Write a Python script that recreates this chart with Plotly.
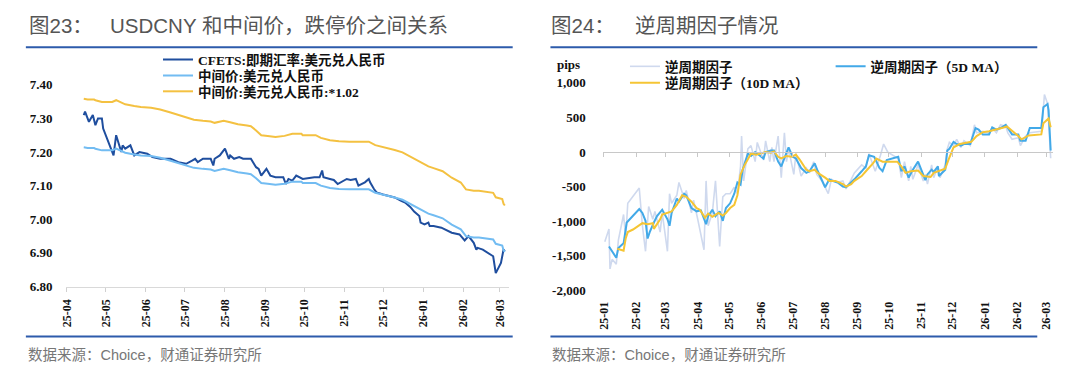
import plotly.graph_objects as go

# ---------------- Left chart data (USDCNY vs central parity) ----------------
spot_dates = ["2025-04-14","2025-04-15","2025-04-18","2025-04-21","2025-04-23","2025-04-25","2025-04-28","2025-04-29",
              "2025-05-07","2025-05-09","2025-05-13","2025-05-14","2025-05-16","2025-05-20","2025-05-23","2025-05-27",
              "2025-06-02","2025-06-06","2025-06-12","2025-06-20","2025-06-26","2025-07-02","2025-07-07","2025-07-09",
              "2025-07-11","2025-07-15","2025-07-21","2025-07-23","2025-07-24","2025-07-28","2025-08-01","2025-08-04",
              "2025-08-05","2025-08-08","2025-08-12","2025-08-15","2025-08-19","2025-08-21","2025-08-25","2025-08-27",
              "2025-08-29","2025-09-02","2025-09-05","2025-09-09","2025-09-15","2025-09-17","2025-09-19","2025-09-22",
              "2025-09-25","2025-09-29","2025-09-30","2025-10-09","2025-10-13","2025-10-15","2025-10-16","2025-10-21",
              "2025-10-24","2025-10-27","2025-10-29","2025-11-03","2025-11-06","2025-11-10","2025-11-12","2025-11-17",
              "2025-11-20","2025-11-21","2025-11-24","2025-11-26","2025-12-01","2025-12-05","2025-12-10","2025-12-15",
              "2025-12-18","2025-12-22","2025-12-25","2025-12-29","2025-12-30","2026-01-02","2026-01-05","2026-01-06",
              "2026-01-09","2026-01-15","2026-01-20","2026-01-23","2026-01-29","2026-02-02","2026-02-05","2026-02-09",
              "2026-02-11","2026-02-12","2026-02-16","2026-02-20","2026-02-24","2026-02-26","2026-03-02","2026-03-04",
              "2026-03-05"]
spot_vals = [7.310,7.320,7.290,7.310,7.280,7.300,7.300,7.270,
             7.190,7.250,7.200,7.220,7.210,7.220,7.190,7.200,
             7.195,7.185,7.180,7.180,7.170,7.165,7.175,7.180,
             7.170,7.180,7.180,7.160,7.180,7.190,7.210,7.180,
             7.190,7.180,7.185,7.180,7.180,7.180,7.155,7.150,
             7.130,7.150,7.130,7.125,7.125,7.105,7.120,7.115,
             7.130,7.120,7.120,7.125,7.125,7.145,7.125,7.120,
             7.117,7.105,7.110,7.120,7.117,7.120,7.100,7.110,
             7.120,7.110,7.090,7.080,7.074,7.070,7.065,7.055,
             7.050,7.037,7.023,7.010,6.990,6.985,6.990,6.980,
             6.980,6.975,6.965,6.960,6.955,6.937,6.950,6.930,
             6.910,6.915,6.910,6.900,6.890,6.840,6.870,6.910,
             6.905]

mid_dates = ["2025-04-14","2025-04-17","2025-04-22","2025-04-23","2025-04-28","2025-05-06","2025-05-09","2025-05-13",
             "2025-05-16","2025-05-23","2025-05-28","2025-06-05","2025-06-12","2025-06-20","2025-06-26","2025-07-03",
             "2025-07-08","2025-07-15","2025-07-21","2025-07-24","2025-07-31","2025-08-05","2025-08-11","2025-08-18",
             "2025-08-21","2025-08-25","2025-08-29","2025-09-03","2025-09-09","2025-09-16","2025-09-22","2025-09-29",
             "2025-09-30","2025-10-10","2025-10-14","2025-10-21","2025-10-28","2025-11-05","2025-11-12","2025-11-20",
             "2025-11-25","2025-12-01","2025-12-05","2025-12-10","2025-12-16","2025-12-22","2025-12-26","2025-12-31",
             "2026-01-05","2026-01-09","2026-01-16","2026-01-23","2026-01-30","2026-02-03","2026-02-09","2026-02-13",
             "2026-02-24","2026-02-26","2026-03-03","2026-03-04","2026-03-05"]
mid_vals = [7.214,7.212,7.212,7.210,7.205,7.205,7.210,7.203,
            7.198,7.193,7.190,7.188,7.183,7.174,7.167,7.160,
            7.153,7.150,7.148,7.144,7.150,7.146,7.140,7.136,
            7.134,7.122,7.108,7.106,7.103,7.106,7.112,7.112,
            7.108,7.108,7.100,7.093,7.090,7.089,7.089,7.089,
            7.079,7.074,7.070,7.065,7.058,7.046,7.036,7.027,
            7.017,7.012,7.003,6.984,6.970,6.950,6.946,6.946,
            6.940,6.927,6.922,6.908,6.903]
# third series is defined in the chart's legend as central parity * 1.02
limit_factor = 1.02
limit_vals = [round(v * limit_factor, 4) for v in mid_vals]

left_names = ["CFETS:即期汇率:美元兑人民币", "中间价:美元兑人民币", "中间价:美元兑人民币:*1.02"]
left_yticks = [6.80, 6.90, 7.00, 7.10, 7.20, 7.30, 7.40]

# ---------------- Right chart data (counter-cyclical factor, pips) ----------------
raw_dates = ["2025-01-02","2025-01-06","2025-01-07","2025-01-09","2025-01-13","2025-01-15","2025-01-20","2025-01-22",
             "2025-01-24","2025-02-04","2025-02-07","2025-02-10","2025-02-13","2025-02-17","2025-02-19","2025-02-24",
             "2025-02-26","2025-03-03","2025-03-05","2025-03-07","2025-03-12","2025-03-14","2025-03-19","2025-03-21",
             "2025-03-26","2025-03-28","2025-04-01","2025-04-07","2025-04-09","2025-04-11","2025-04-15","2025-04-18",
             "2025-04-22","2025-04-25","2025-04-28","2025-05-02","2025-05-06","2025-05-09","2025-05-12","2025-05-13",
             "2025-05-15","2025-05-19","2025-05-22","2025-05-26","2025-05-28","2025-06-03","2025-06-05","2025-06-09",
             "2025-06-11","2025-06-13","2025-06-17","2025-06-20","2025-06-23","2025-06-25","2025-06-27","2025-07-02",
             "2025-07-04","2025-07-09","2025-07-14","2025-07-17","2025-07-21","2025-07-24","2025-07-29","2025-08-04",
             "2025-08-07","2025-08-12","2025-08-18","2025-08-21","2025-08-26","2025-08-29","2025-09-05","2025-09-09",
             "2025-09-12","2025-09-18","2025-09-23","2025-09-26","2025-09-30","2025-10-10","2025-10-13","2025-10-16",
             "2025-10-20","2025-10-22","2025-10-24","2025-10-29","2025-11-03","2025-11-05","2025-11-07","2025-11-11",
             "2025-11-13","2025-11-17","2025-11-19","2025-11-24","2025-11-26","2025-11-28","2025-12-02","2025-12-05",
             "2025-12-09","2025-12-12","2025-12-18","2025-12-22","2025-12-24","2025-12-30","2026-01-05","2026-01-08",
             "2026-01-12","2026-01-16","2026-01-21","2026-01-23","2026-01-27","2026-02-02","2026-02-04","2026-02-09",
             "2026-02-13","2026-02-24","2026-02-25","2026-02-27","2026-03-02","2026-03-03","2026-03-04","2026-03-05"]
raw_vals = [-1296,-1111,-1690,-1551,-1620,-1273,-903,-1250,
            -741,-519,-1065,-1435,-787,-972,-857,-1157,
            -880,-1435,-602,-741,-625,-440,-671,-556,
            -880,-694,-972,-1412,-417,-1065,-880,-417,
            -1366,-648,-602,-602,-509,-602,-208,231,
            -417,46,93,-139,139,-116,162,-139,
            69,-139,231,-370,278,-139,46,-324,
            -23,-347,-231,-301,-139,-324,-417,-602,
            -394,-440,-417,-532,-394,-301,-185,-231,
            -23,-278,-46,116,0,-93,-370,-139,
            -417,-208,-394,-185,-417,-324,-463,-185,
            -370,-208,-370,-185,46,139,93,185,
            69,162,93,394,278,301,278,347,
            278,394,370,278,185,208,93,231,
            278,301,417,833,700,400,150,-90]

ma5_dates = ["2025-01-06","2025-01-13","2025-01-15","2025-01-20","2025-01-23","2025-01-27","2025-02-04","2025-02-07",
             "2025-02-10","2025-02-12","2025-02-14","2025-02-18","2025-02-21","2025-02-26","2025-03-03","2025-03-05",
             "2025-03-07","2025-03-12","2025-03-14","2025-03-19","2025-03-21","2025-03-26","2025-03-31","2025-04-04",
             "2025-04-09","2025-04-11","2025-04-15","2025-04-18","2025-04-22","2025-04-25","2025-04-28","2025-05-02",
             "2025-05-06","2025-05-09","2025-05-12","2025-05-14","2025-05-19","2025-05-22","2025-05-26","2025-05-30",
             "2025-06-03","2025-06-05","2025-06-10","2025-06-13","2025-06-17","2025-06-20","2025-06-24","2025-06-27",
             "2025-07-01","2025-07-04","2025-07-09","2025-07-14","2025-07-17","2025-07-22","2025-07-25","2025-08-01",
             "2025-08-05","2025-08-08","2025-08-13","2025-08-18","2025-08-21","2025-08-26","2025-08-29","2025-09-05",
             "2025-09-09","2025-09-12","2025-09-17","2025-09-22","2025-09-25","2025-09-29","2025-10-10","2025-10-13",
             "2025-10-16","2025-10-20","2025-10-22","2025-10-24","2025-10-29","2025-11-03","2025-11-05","2025-11-07",
             "2025-11-11","2025-11-13","2025-11-17","2025-11-18","2025-11-24","2025-11-26","2025-11-28","2025-12-02",
             "2025-12-05","2025-12-09","2025-12-12","2025-12-18","2025-12-23","2025-12-26","2025-12-30","2026-01-05",
             "2026-01-08","2026-01-12","2026-01-16","2026-01-21","2026-01-23","2026-01-27","2026-02-02","2026-02-04",
             "2026-02-09","2026-02-13","2026-02-24","2026-02-26","2026-03-02","2026-03-03","2026-03-05"]
ma5_vals = [-1366,-1528,-1389,-1320,-1019,-949,-824,-880,
            -995,-1250,-1157,-1019,-926,-833,-972,-1065,
            -880,-671,-718,-602,-625,-810,-857,-843,
            -1042,-926,-833,-926,-857,-995,-810,-741,
            -602,-440,-472,-255,-23,-56,0,-46,
            -93,0,23,23,-139,-208,-46,69,
            -69,-93,-231,-301,-278,-162,-278,-509,
            -394,-417,-440,-500,-509,-440,-394,-278,
            -208,-46,-69,-231,-278,-116,-69,-278,
            -208,-370,-301,-255,-139,-324,-407,-324,
            -255,-287,-208,-347,-255,23,46,148,
            116,93,116,116,347,324,255,255,
            356,324,347,394,347,255,255,162,
            162,347,347,648,695,602,23]

ma10_dates = ["2025-01-14","2025-01-20","2025-01-22","2025-01-24","2025-01-29","2025-02-04","2025-02-07","2025-02-12",
              "2025-02-17","2025-02-18","2025-02-24","2025-02-26","2025-03-03","2025-03-07","2025-03-12","2025-03-17",
              "2025-03-21","2025-03-26","2025-03-31","2025-04-03","2025-04-08","2025-04-11","2025-04-15","2025-04-21",
              "2025-04-25","2025-04-28","2025-05-02","2025-05-06","2025-05-09","2025-05-12","2025-05-16","2025-05-22",
              "2025-05-27","2025-05-30","2025-06-05","2025-06-10","2025-06-13","2025-06-17","2025-06-20","2025-06-25",
              "2025-06-30","2025-07-04","2025-07-08","2025-07-14","2025-07-17","2025-07-22","2025-07-25","2025-08-01",
              "2025-08-05","2025-08-11","2025-08-18","2025-08-21","2025-08-26","2025-08-29","2025-09-05","2025-09-09",
              "2025-09-16","2025-09-19","2025-09-25","2025-09-30","2025-10-09","2025-10-13","2025-10-17","2025-10-22",
              "2025-10-29","2025-11-03","2025-11-10","2025-11-13","2025-11-18","2025-11-24","2025-11-27","2025-12-02",
              "2025-12-08","2025-12-12","2025-12-19","2025-12-24","2025-12-30","2026-01-05","2026-01-12","2026-01-19",
              "2026-01-22","2026-01-27","2026-02-02","2026-02-05","2026-02-12","2026-02-24","2026-02-26","2026-03-03",
              "2026-03-05"]
ma10_vals = [-1398,-1426,-1250,-1157,-1120,-1065,-1028,-1042,
             -1028,-1111,-972,-903,-880,-857,-764,-625,
             -648,-718,-810,-833,-949,-889,-935,-880,
             -917,-880,-810,-764,-625,-324,-185,-23,
             -37,-23,0,-9,9,-69,-93,-56,
             -69,-37,-116,-255,-278,-255,-301,-370,
             -417,-417,-463,-500,-463,-417,-347,-278,
             -162,-93,-139,-139,-139,-208,-301,-278,
             -268,-347,-361,-301,-278,-241,-116,69,
             116,130,148,231,287,301,324,356,
             370,310,231,185,241,255,417,486,
             360]

right_names = ["逆周期因子", "逆周期因子（5D MA）", "逆周期因子（10D MA）"]
right_yticks = [-2000, -1500, -1000, -500, 0, 500, 1000]
right_yticktext = ["-2,000", "-1,500", "-1,000", "-500", "0", "500", "1,000"]

# ---------------- Layout helpers ----------------
W, H = 1080, 381
def fx(px):
    return px / W
def fy(py):
    return 1 - py / H

SERIF = "Liberation Serif, Times New Roman, Noto Sans CJK SC"
SANS = "Liberation Sans, Arial, Noto Sans CJK SC"
tickfont = dict(family=SERIF, size=13, color="#111111", weight="bold")
xtickfont = dict(family=SERIF, size=12, color="#111111", weight="bold")
legfont = dict(family=SERIF, size=13.5, color="#111111", weight="bold")

fig = go.Figure()

# left traces
fig.add_trace(go.Scatter(x=spot_dates, y=spot_vals, mode="lines", name=left_names[0],
                         line=dict(color="#1f4e9e", width=2), xaxis="x", yaxis="y", legend="legend"))
fig.add_trace(go.Scatter(x=mid_dates, y=mid_vals, mode="lines", name=left_names[1],
                         line=dict(color="#72bcf2", width=2), xaxis="x", yaxis="y", legend="legend2"))
fig.add_trace(go.Scatter(x=mid_dates, y=limit_vals, mode="lines", name=left_names[2],
                         line=dict(color="#f4c141", width=2), xaxis="x", yaxis="y", legend="legend3"))

# right traces
fig.add_trace(go.Scatter(x=raw_dates, y=raw_vals, mode="lines", name=right_names[0],
                         line=dict(color="#cfd9ee", width=1.6), xaxis="x2", yaxis="y2", legend="legend4"))
fig.add_trace(go.Scatter(x=ma5_dates, y=ma5_vals, mode="lines", name=right_names[1],
                         line=dict(color="#42a9e8", width=2), xaxis="x2", yaxis="y2", legend="legend5"))
fig.add_trace(go.Scatter(x=ma10_dates, y=ma10_vals, mode="lines", name=right_names[2],
                         line=dict(color="#f5c534", width=2), xaxis="x2", yaxis="y2", legend="legend6"))
# empty trace carrying the zero-line axis with month ticks
fig.add_trace(go.Scatter(x=[], y=[], mode="lines", showlegend=False, hoverinfo="skip",
                         xaxis="x3", yaxis="y2"))

y2_dom = [fy(295), fy(79)]
y2_rng = [-2000, 1000]
zero_pos = y2_dom[0] + (y2_dom[1] - y2_dom[0]) * (0 - y2_rng[0]) / (y2_rng[1] - y2_rng[0])

def leg(px, py):
    return dict(x=fx(px), y=fy(py), xanchor="left", yanchor="middle", orientation="v",
                font=legfont, bgcolor="rgba(0,0,0,0)", borderwidth=0)

fig.update_layout(
    width=W, height=H,
    margin=dict(l=0, r=0, t=0, b=0),
    paper_bgcolor="white", plot_bgcolor="rgba(0,0,0,0)",
    xaxis=dict(domain=[fx(60), fx(506)], anchor="y", type="date",
               range=["2025-03-31", "2026-03-08"], tick0="2025-04-01", dtick="M1",
               tickformat="%y-%m", tickangle=-90, tickfont=xtickfont,
               showline=True, linecolor="#d9d9d9", linewidth=1,
               ticks="outside", ticklen=4, tickcolor="#d0d0d0",
               showgrid=False, zeroline=False, ticklabelstandoff=3),
    yaxis=dict(domain=[fy(291), fy(81)], anchor="x", range=[6.80, 7.40],
               tickvals=left_yticks, ticktext=[f"{v:.2f}" for v in left_yticks],
               tickfont=tickfont, showline=False, showgrid=False, zeroline=False,
               ticks="", ticklabelstandoff=12),
    xaxis2=dict(domain=[fx(600.6), fx(1053.6)], anchor="y2", type="date",
                range=["2024-12-31", "2026-03-07"], tick0="2025-01-01", dtick="M1",
                tickformat="%y-%m", tickangle=-90, tickfont=xtickfont,
                showline=False, ticks="", showgrid=False, zeroline=False,
                ticklabelstandoff=8),
    xaxis3=dict(overlaying="x2", anchor="free", position=zero_pos, type="date",
                range=["2024-12-31", "2026-03-07"], tick0="2025-01-01", dtick="M1",
                showticklabels=False, showline=True, linecolor="#c8c8c8", linewidth=1,
                ticks="outside", ticklen=4, tickcolor="#c8c8c8",
                showgrid=False, zeroline=False),
    yaxis2=dict(domain=y2_dom, anchor="x2", range=y2_rng,
                tickvals=right_yticks, ticktext=right_yticktext,
                tickfont=tickfont, showline=False, showgrid=False, zeroline=False,
                ticks="", ticklabelstandoff=16),
    legend=leg(153, 55),
    legend2=leg(153, 71.5),
    legend3=leg(153, 88),
    legend4=leg(623, 62),
    legend5=leg(830, 62),
    legend6=leg(623, 79),
    showlegend=True,
)

title_font = dict(family=SANS, size=20.5, color="#555555")
foot_font = dict(family=SANS, size=14.5, color="#777777")
annots = [
    dict(text="图23：", x=fx(21), y=fy(19), xanchor="left", yanchor="middle", font=title_font),
    dict(text="USDCNY 和中间价，跌停价之间关系", x=fx(103), y=fy(19), xanchor="left", yanchor="middle", font=title_font),
    dict(text="图24：", x=fx(547), y=fy(19), xanchor="left", yanchor="middle", font=title_font),
    dict(text="逆周期因子情况", x=fx(631), y=fy(19), xanchor="left", yanchor="middle", font=title_font),
    dict(text="数据来源：Choice，财通证券研究所", x=fx(20), y=fy(362), xanchor="left", yanchor="middle", font=foot_font),
    dict(text="数据来源：Choice，财通证券研究所", x=fx(548), y=fy(362), xanchor="left", yanchor="middle", font=foot_font),
    dict(text="pips", x=fx(553), y=fy(60), xanchor="left", yanchor="middle",
         font=dict(family=SERIF, size=13, color="#111111", weight="bold")),
]
for a in annots:
    a.update(xref="paper", yref="paper", showarrow=False)
fig.update_layout(annotations=annots)

blue = "#2d5bab"
fig.add_shape(type="line", xref="paper", yref="paper", x0=fx(20), x1=fx(510), y0=fy(42), y1=fy(42),
              line=dict(color=blue, width=2), layer="above")
fig.add_shape(type="line", xref="paper", yref="paper", x0=fx(20), x1=fx(510), y0=fy(343), y1=fy(343),
              line=dict(color=blue, width=2), layer="above")
fig.add_shape(type="line", xref="paper", yref="paper", x0=fx(548), x1=fx(1038), y0=fy(42), y1=fy(42),
              line=dict(color=blue, width=2), layer="above")
fig.add_shape(type="line", xref="paper", yref="paper", x0=fx(548), x1=fx(1038), y0=fy(343), y1=fy(343),
              line=dict(color=blue, width=2), layer="above")

fig.write_html("out.html", config={"displayModeBar": False},
               post_script="document.body.style.margin='0';document.body.style.overflow='hidden';")
